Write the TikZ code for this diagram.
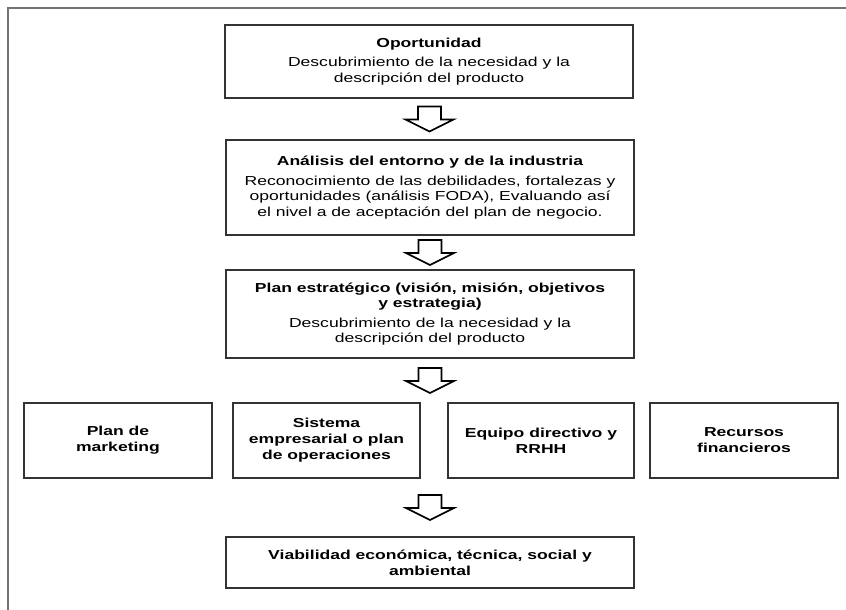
\documentclass[tikz,border=0pt]{standalone}
\usepackage{fontspec}
\setmainfont{Liberation Sans}[FakeStretch=1.35]
\usetikzlibrary{calc}

% flecha hueca hacia abajo, centrada entre dos puntos
\newcommand{\flechahueca}[2]{%
  \draw[flecha] ($(#1)!.5!(#2)$) ++(-11.5,-12.5) -- ++(23,0) -- ++(0,13)
    -- ++(12.5,0) -- ++(-24,12) -- ++(-24,-12) -- ++(12.5,0) -- cycle;}

\begin{document}
\begin{tikzpicture}[x=1pt, y=-1pt, line join=miter,
    caja/.style={draw=black!80, line width=1.3pt, align=center, inner sep=0pt,
      font=\fontsize{13}{15.5}\selectfont},
    titulo/.style={caja, font=\fontsize{13}{16}\selectfont\bfseries},
    flecha/.style={draw=black, line width=1.6pt, fill=white}]
  \useasboundingbox (0,0) rectangle (846,610);
  % marco
  \draw[black!55, line width=2pt] (846,8) -- (8,8) -- (8,610);

  \node[caja, minimum width=408, minimum height=73] (oport) at (429,61.5)
    {\textbf{Oportunidad}\\[4pt] Descubrimiento de la necesidad y la\\ descripción del producto};
  \node[caja, minimum width=408, minimum height=95] (analisis) at (430,187.5)
    {\textbf{Análisis del entorno y de la industria}\\[4pt]
     Reconocimiento de las debilidades, fortalezas y\\
     oportunidades (análisis FODA), Evaluando así\\
     el nivel a de aceptación del plan de negocio.};
  \node[caja, minimum width=408, minimum height=88] (plan) at (430,314)
    {\textbf{Plan estratégico (visión, misión, objetivos}\\ \textbf{y estrategia)}\\[4pt]
     Descubrimiento de la necesidad y la\\ descripción del producto};

  % fila de planes
  \foreach \n/\x/\w/\t in {mkt/118/188/{Plan de\\ marketing},
      sist/326.5/187/{Sistema\\ empresarial o plan\\ de operaciones},
      equipo/541/186/{Equipo directivo y\\ RRHH},
      recursos/744/188/{Recursos\\ financieros}}
    \node[titulo, minimum width=\w, minimum height=75] (\n) at (\x,440.5) {\t};

  \node[titulo, minimum width=408, minimum height=51] (viab) at (430,562.5)
    {Viabilidad económica, técnica, social y\\ ambiental};

  \coordinate (fila) at (plan.south |- sist.north);
  \coordinate (filab) at (viab.north |- sist.south);
  \flechahueca{oport.south}{analisis.north}
  \flechahueca{analisis.south}{plan.north}
  \flechahueca{plan.south}{fila}
  \flechahueca{filab}{viab.north}
\end{tikzpicture}
\end{document}
